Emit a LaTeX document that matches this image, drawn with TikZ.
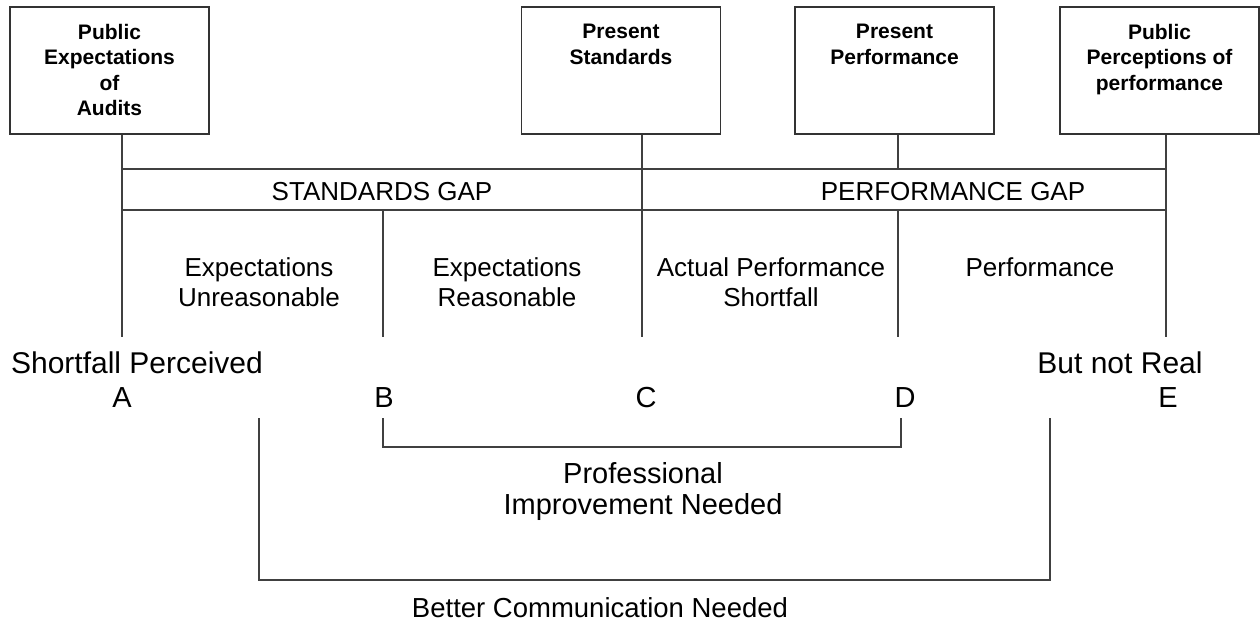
\documentclass[tikz,border=0pt]{standalone}
\usepackage{fontspec}
\setmainfont{Liberation Sans}
\begin{document}
\begin{tikzpicture}[x=1pt,y=-1pt,
  box/.style={draw=black!80,line width=1.1pt,minimum width=199pt,minimum height=127pt,inner sep=0pt},
  boxtext/.style={font=\bfseries\fontsize{21}{25.5}\selectfont,align=center,inner sep=0pt,anchor=north},
  ln/.style={draw=black!75,line width=1.1pt},
  gaplabel/.style={font=\fontsize{26}{30}\selectfont,inner sep=0pt,anchor=base},
  midlabel/.style={font=\fontsize{26}{30.5}\selectfont,align=center,inner sep=0pt,anchor=north},
  biglabel/.style={font=\fontsize{30}{34}\selectfont,inner sep=0pt,anchor=base},
  letter/.style={font=\fontsize{29}{33}\selectfont,inner sep=0pt,anchor=base},
  needlabel/.style={font=\fontsize{29}{31}\selectfont,align=center,inner sep=0pt,anchor=north},
  commlabel/.style={font=\fontsize{27.5}{31}\selectfont,inner sep=0pt,anchor=base},
]
\useasboundingbox (0,0) rectangle (1260,624);

% boxes
\node[box] (b1) at (109.5,70.5) {};
\node[box] (b2) at (621,70.5) {};
\node[box] (b3) at (894.5,70.5) {};
\node[box] (b4) at (1159.5,70.5) {};
\node[boxtext] (t1) at (109.5,24) {Public\\Expectations\\of\\Audits};
\node[boxtext] (t2) at (621,24) {Present\\Standards};
\node[boxtext] (t3) at (894.5,24) {Present\\Performance};
\node[boxtext] (t4) at (1159.5,24) {Public\\Perceptions of\\performance};

% junction coordinates
\coordinate (a1) at (122,169);
\coordinate (a2) at (122,210);
\coordinate (a3) at (122,337);
\coordinate (b2t) at (383,210);
\coordinate (b3b) at (383,337);
\coordinate (c1) at (642,169);
\coordinate (c2) at (642,210);
\coordinate (c3) at (642,337);
\coordinate (d1) at (898,169);
\coordinate (d2) at (898,210);
\coordinate (d3) at (898,337);
\coordinate (e1) at (1166,169);
\coordinate (e2) at (1166,210);
\coordinate (e3) at (1166,337);

% connectors
\draw[ln] (b1.south -| a1) -- (a3);
\draw[ln] (b2.south -| c1) -- (c3);
\draw[ln] (b3.south -| d1) -- (d1);
\draw[ln] (d2) -- (d3);
\draw[ln] (b4.south -| e1) -- (e3);
\draw[ln] (b2t) -- (b3b);
\draw[ln] (a1) -- (e1);
\draw[ln] (a2) -- (e2);

% gap labels
\node[gaplabel] (sg) at (382,200) {STANDARDS GAP};
\node[gaplabel] (pg) at (953,200) {PERFORMANCE GAP};

% middle labels
\node[midlabel] (m1) at (259,257) {Expectations\\Unreasonable};
\node[midlabel] (m2) at (507,257) {Expectations\\Reasonable};
\node[midlabel] (m3) at (771,257) {Actual Performance\\Shortfall};
\node[midlabel] (m4) at (1040,257) {Performance};

% perceived labels
\node[biglabel] (sp) at (137,373) {Shortfall Perceived};
\node[biglabel] (bn) at (1120,373) {But not Real};

% letters
\node[letter] (lA) at (122,407) {A};
\node[letter] (lB) at (384,407) {B};
\node[letter] (lC) at (646,407) {C};
\node[letter] (lD) at (905,407) {D};
\node[letter] (lE) at (1168,407) {E};

% bracket 1
\coordinate (p1) at (383,418);
\coordinate (p2) at (383,447);
\coordinate (p3) at (901,447);
\coordinate (p4) at (901,418);
\draw[ln] (p1) -- (p2) -- (p3) -- (p4);
\node[needlabel] (pin) at (643,462) {Professional\\Improvement Needed};

% bracket 2
\coordinate (q1) at (259,418);
\coordinate (q2) at (259,580);
\coordinate (q3) at (1050,580);
\coordinate (q4) at (1050,418);
\draw[ln] (q1) -- (q2) -- (q3) -- (q4);
\node[commlabel] (bcn) at (600,617) {Better Communication Needed};
\end{tikzpicture}
\end{document}
